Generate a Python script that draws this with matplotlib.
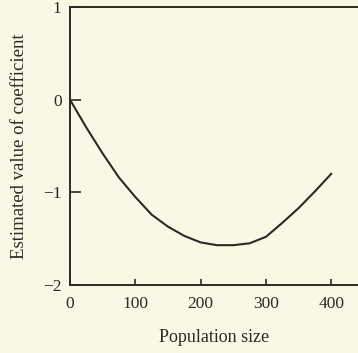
import matplotlib.pyplot as plt
import numpy as np

# data
pop_size = [0, 25, 50, 75, 100, 125, 150, 175, 200, 225, 250, 275, 300, 325, 350, 375, 400]
coef = [0.0, -0.30, -0.58, -0.84, -1.05, -1.24, -1.37, -1.47, -1.54, -1.57,
        -1.57, -1.55, -1.48, -1.33, -1.17, -0.99, -0.80]
x_ticks = [0, 100, 200, 300, 400]
y_ticks = [-2, -1, 0, 1]

bg = '#faf8e4'
ink = '#2b2a24'

plt.rcParams['font.family'] = ['Liberation Serif', 'DejaVu Serif']

fig = plt.figure(figsize=(3.58, 3.53), dpi=100, facecolor=bg)
ax = fig.add_axes([0.1955, 0.1926, 0.8045, 0.7874], facecolor=bg)

ax.plot(pop_size, coef, color=ink, linewidth=1.5, solid_joinstyle='round')

ax.set_xlim(0, 441)
ax.set_ylim(-2, 1)
ax.set_xticks(x_ticks)
ax.set_yticks(y_ticks)
ax.set_yticklabels(['\u22122', '\u22121', '0', '1'])

for side in ['left', 'top', 'bottom']:
    ax.spines[side].set_color(ink)
    ax.spines[side].set_linewidth(1.4)
ax.spines['right'].set_visible(False)

ax.tick_params(axis='y', direction='in', length=8, width=1.2, color=ink,
               labelsize=12.5, labelcolor=ink, pad=6)
ax.tick_params(axis='x', direction='in', length=4, width=1.2, color=ink,
               labelsize=12.5, labelcolor=ink, pad=8)

ax.set_xlabel('Population size', fontsize=13, color=ink, labelpad=12)
ax.set_ylabel('Estimated value of coefficient', fontsize=13.5, color=ink, labelpad=11)

fig.savefig('out.png', dpi=100, facecolor=bg)
